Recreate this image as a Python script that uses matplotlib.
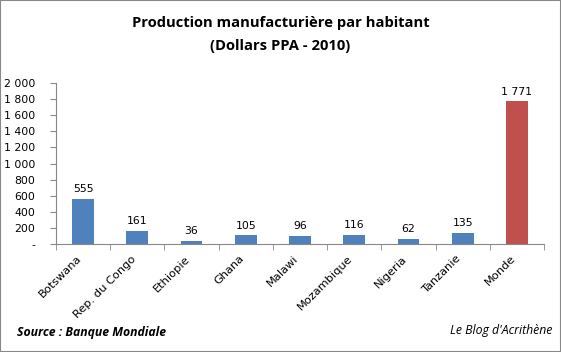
import matplotlib
matplotlib.use("Agg")
import matplotlib.pyplot as plt
import matplotlib.transforms as mtransforms
from matplotlib.patches import Rectangle

# data
pays = ["Botswana", "Rep. du Congo", "Ethiopie", "Ghana", "Malawi",
        "Mozambique", "Nigeria", "Tanzanie", "Monde"]
valeurs = [555, 161, 36, 105, 96, 116, 62, 135, 1771]
yticks = [0, 200, 400, 600, 800, 1000, 1200, 1400, 1600, 1800, 2000]
ytick_labels = ["-", "200", "400", "600", "800", "1 000", "1 200",
                "1 400", "1 600", "1 800", "2 000"]

bleu = "#4F81BD"
rouge = "#C0504D"
couleurs = [bleu] * (len(pays) - 1) + [rouge]

fig = plt.figure(figsize=(5.61, 3.52), dpi=100)
fig.patches.append(Rectangle((0, 0), 1, 1, transform=fig.transFigure,
                             fill=False, edgecolor="#888888", linewidth=1.5))
ax = fig.add_axes([0.0998, 0.307, 0.870, 0.457])

x = range(len(pays))
ax.bar(x, valeurs, width=0.4, color=couleurs)
for i, v in zip(x, valeurs):
    lab = f"{v:,}".replace(",", " ")
    ax.text(i, v + 60, lab, ha="center", va="bottom", fontsize=7.8,
            family="DejaVu Sans")

ax.set_xlim(-0.5, len(pays) - 0.5)
ax.set_ylim(0, 2000)
ax.set_yticks(yticks)
ax.set_yticklabels(ytick_labels, fontsize=7.8)
ax.set_xticks(list(x))
ax.set_xticklabels(pays, rotation=45, ha="right", rotation_mode="anchor",
                   fontsize=8.2)
ax.tick_params(axis="x", length=0, pad=7)
# nudge the rotated labels a bit to the left
decal = mtransforms.ScaledTranslation(-5 / 72, 0, fig.dpi_scale_trans)
for lab in ax.get_xticklabels():
    lab.set_transform(lab.get_transform() + decal)
ax.set_xticks([i + 0.5 for i in range(-1, len(pays))], minor=True)
ax.tick_params(axis="x", which="minor", length=4, color="#888888")
ax.tick_params(axis="y", length=4, color="#888888", pad=11)
for s in ["top", "right"]:
    ax.spines[s].set_visible(False)
ax.spines["left"].set_color("#888888")
ax.spines["bottom"].set_color("#888888")

fig.text(0.5, 0.935, "Production manufacturière par habitant",
         ha="center", va="center", fontsize=10.6, fontweight="bold",
         family="Open Sans")
fig.text(0.5, 0.87, "(Dollars PPA - 2010)",
         ha="center", va="center", fontsize=10.6, fontweight="bold",
         family="Open Sans")
fig.text(0.03, 0.055, "Source : Banque Mondiale", ha="left", va="center",
         fontsize=8.8, fontweight="bold", style="italic", family="Open Sans")
fig.text(0.985, 0.06, "Le Blog d'Acrithène", ha="right", va="center",
         fontsize=8.8, style="italic", family="Open Sans")

fig.savefig("out.png", dpi=100)
